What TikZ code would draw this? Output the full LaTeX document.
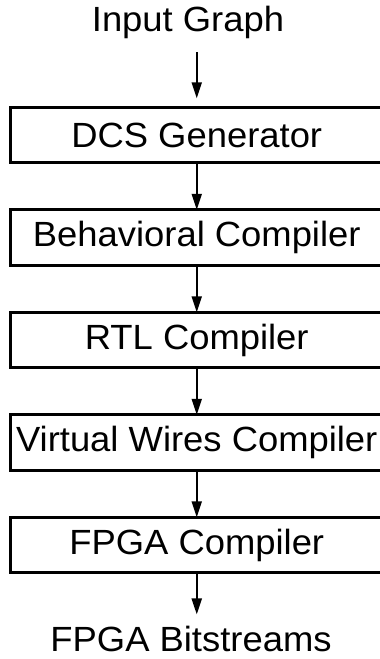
\documentclass[tikz,border=0pt]{standalone}
\usepackage{fontspec}
\setmainfont{Liberation Sans}[FakeStretch=1.04]
\usetikzlibrary{arrows.meta}
\begin{document}
\begin{tikzpicture}[x=1pt,y=1pt,
  stage/.style={minimum width=372.5pt,minimum height=55pt,
    inner sep=0pt,font=\fontsize{35}{38}\selectfont},
  frame/.style={draw=black,line width=3.2pt},
  label/.style={inner sep=0pt,font=\fontsize{35}{38}\selectfont},
  flow/.style={line width=2pt,-{Triangle[width=10pt,length=16pt]}}]
\useasboundingbox (0,0) rectangle (380,659);
\clip (0,0) rectangle (380,659);
\fill[white] (0,0) rectangle (380,659);
% input and output labels
\node[label,anchor=base] (inp) at (188,627) {Input Graph};
\node[label,anchor=base] (out) at (191,7) {FPGA Bitstreams};
% compiler stages
\node[stage] (s1) at (196.75,524) {DCS Generator};
\node[stage] (s2) at (196.75,421.5) {Behavioral Compiler};
\node[stage] (s3) at (196.75,319) {RTL Compiler};
\node[stage] (s4) at (196.75,216.5) {Virtual Wires Compiler};
\node[stage] (s5) at (196.75,114) {FPGA Compiler};
% stage frames run past the right margin
\foreach \s in {s1,s2,s3,s4,s5}
  \draw[frame] (\s.south west) rectangle ([xshift=12pt]\s.north east);
% flow arrows
\draw[flow,shorten <=13pt,shorten >=9pt] (inp.south -| s1.north) -- (s1.north);
\draw[flow] (s1.south) -- (s2.north);
\draw[flow] (s2.south) -- (s3.north);
\draw[flow] (s3.south) -- (s4.north);
\draw[flow] (s4.south) -- (s5.north);
\draw[flow,shorten >=12pt] (s5.south) -- (out.north -| s5.south);
\end{tikzpicture}
\end{document}
